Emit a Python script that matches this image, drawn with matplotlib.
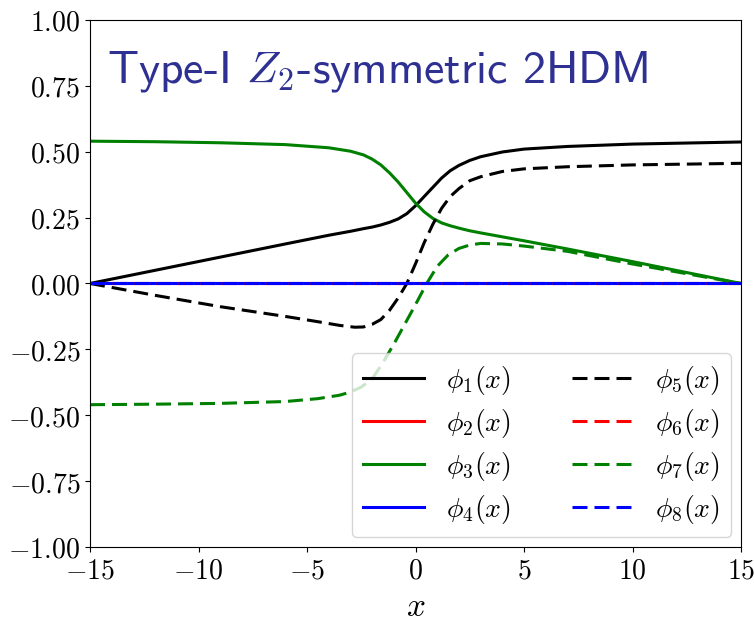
import matplotlib
matplotlib.use("Agg")
import matplotlib.pyplot as plt
from matplotlib.ticker import FuncFormatter

plt.rcParams["mathtext.fontset"] = "cm"

# curves
x_phi1 = [-15, -12, -9, -6, -4, -3, -2.4, -2, -1.6, -1.2, -0.8, -0.4, 0,
          0.4, 0.8, 1.2, 1.6, 2.0, 2.5, 3, 4, 5, 7, 10, 15]
phi1 = [0, 0.05, 0.10, 0.15, 0.183, 0.198, 0.208, 0.214, 0.222, 0.232,
        0.245, 0.265, 0.295, 0.33, 0.365, 0.40, 0.428, 0.448, 0.467, 0.481,
        0.499, 0.51, 0.52, 0.529, 0.537]

x_phi3 = x_phi1
phi3 = [0.54, 0.538, 0.534, 0.527, 0.515, 0.502, 0.488, 0.472, 0.45, 0.42,
        0.385, 0.345, 0.305, 0.272, 0.247, 0.23, 0.219, 0.21, 0.2, 0.192,
        0.177, 0.162, 0.131, 0.083, 0.0]

x_phi5 = [-15, -12, -9, -6, -4.5, -3.5, -2.8, -2.4, -2, -1.6, -1.2, -0.8,
          -0.4, 0, 0.4, 0.8, 1.2, 1.6, 2.0, 2.5, 3, 4, 5, 7, 10, 15]
phi5 = [0, -0.045, -0.088, -0.125, -0.145, -0.159, -0.166, -0.165, -0.155,
        -0.137, -0.102, -0.055, 0.0, 0.075, 0.155, 0.225, 0.285, 0.33, 0.36,
        0.39, 0.405, 0.425, 0.435, 0.443, 0.45, 0.456]

x_phi7 = [-15, -12, -9, -6, -4.5, -3.5, -3, -2.5, -2, -1.5, -1, -0.5, 0,
          0.5, 1, 1.5, 2, 2.5, 3, 4, 5, 7, 10, 15]
phi7 = [-0.46, -0.458, -0.455, -0.448, -0.437, -0.424, -0.412, -0.393,
        -0.362, -0.3, -0.23, -0.155, -0.08, -0.002, 0.065, 0.108, 0.133,
        0.146, 0.152, 0.150, 0.142, 0.122, 0.074, 0.0]

x_zero = [-15, 15]
phi_zero = [0, 0]

curves = [
    (x_phi1, phi1, "black", "-"),
    (x_zero, phi_zero, "red", "-"),
    (x_phi3, phi3, "green", "-"),
    (x_zero, phi_zero, "blue", "-"),
    (x_phi5, phi5, "black", "--"),
    (x_zero, phi_zero, "red", "--"),
    (x_phi7, phi7, "green", "--"),
    (x_zero, phi_zero, "blue", "--"),
]

fig = plt.figure(figsize=(7.54, 6.24), dpi=100)
ax = fig.add_axes([0.1194, 0.1234, 0.8634, 0.8446])

for i, (xs, ys, col, ls) in enumerate(curves):
    line, = ax.plot(xs, ys, color=col, linestyle=ls, linewidth=2.2,
                    label=r"$\phi_{%d}(x)$" % (i + 1))
    if ls == "--":
        line.set_dashes((4.9, 2.3))

ax.set_xlim(-15, 15)
ax.set_ylim(-1, 1)
ax.set_xticks([-15, -10, -5, 0, 5, 10, 15])
ax.set_yticks([-1, -0.75, -0.5, -0.25, 0, 0.25, 0.5, 0.75, 1])
ax.xaxis.set_major_formatter(FuncFormatter(lambda v, p: r"$%d$" % v))
ax.yaxis.set_major_formatter(FuncFormatter(lambda v, p: r"$%.2f$" % v))
ax.tick_params(labelsize=20)
ax.set_xlabel(r"$x$", fontsize=24, labelpad=4)

ax.text(0.026, 0.882, r"Type-I $Z_2$-symmetric 2HDM", transform=ax.transAxes,
        fontsize=33, color="#2e3192", family="cmss10", ha="left",
        va="baseline")

ax.legend(loc="lower right", ncol=2, fontsize=20, handlelength=2.2,
          columnspacing=2.2, labelspacing=0.36, borderaxespad=0.35)

fig.savefig("out.png", dpi=100)
